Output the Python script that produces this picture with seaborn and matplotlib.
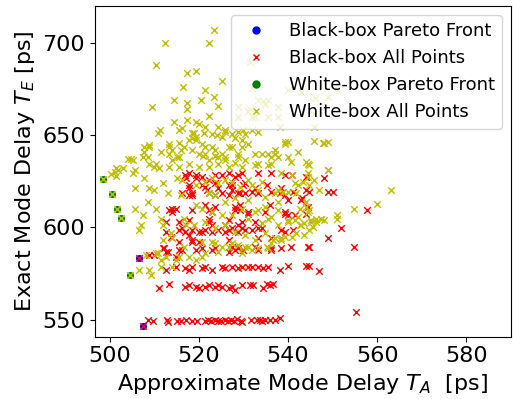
import matplotlib
matplotlib.use("Agg")
import matplotlib.pyplot as plt
from matplotlib.lines import Line2D
import seaborn as sns

# black-box pareto front
bb_pareto_x = [506.5, 507.5]
bb_pareto_y = [583.4, 546.4]

# white-box pareto front
wb_pareto_x = [498.5, 500.5, 501.6, 502.6, 504.5]
wb_pareto_y = [626.1, 618.2, 610.0, 605.2, 574.1]

# black-box, all evaluated points
bb_x = [
    506.5, 507.5,
    508.7, 509.8, 512.8, 513.2, 515.0, 516.0, 517.2, 518.4, 519.6, 521.4, 522.0, 522.8,
    523.6, 524.2, 525.0, 525.8, 526.6, 527.2, 528.0, 528.6, 529.4, 529.6, 531.8, 533.0,
    533.7, 534.2, 534.8, 536.0, 537.0, 538.2, 555.2,
    511.1, 513.3, 517.0, 517.8, 519.3, 520.0, 521.5, 522.2, 523.7, 524.4, 525.2, 526.7,
    527.4, 528.2, 529.6, 531.5, 532.2, 534.5, 535.2, 535.9, 536.7,
    512.6, 514.8, 517.0, 517.8, 518.5, 520.7, 521.5, 523.0, 525.2, 525.9, 527.4, 528.9,
    529.6, 531.1, 531.9, 533.3, 534.5, 535.6, 538.2, 540.0, 544.1, 544.8, 547.0,
    508.9, 510.0, 514.8,
    511.9, 512.6, 512.2, 513.0, 515.6, 516.3, 519.3, 520.7, 523.0, 523.7, 526.7, 527.4,
    528.2, 528.9, 530.0, 532.6, 533.3, 536.3, 536.3, 538.5, 540.7, 544.4, 544.8, 554.8,
    513.7, 515.6, 517.8, 518.5, 518.5, 520.0, 526.7, 533.3, 536.3, 548.9,
    512.6, 515.6, 516.3, 517.0, 518.5, 520.0, 520.7, 521.5, 523.0, 524.4, 525.9, 526.7,
    527.4, 528.9, 529.6, 530.4, 531.9, 533.3, 534.1, 538.5, 539.3, 541.1, 551.9,
    512.6, 515.6, 517.8, 522.2, 522.2, 523.0, 525.9, 526.7, 528.9, 529.6, 532.6,
    513.3, 514.1, 514.8, 514.1, 518.5, 521.5, 522.2, 523.0, 523.7, 528.1, 528.2, 529.3,
    529.3, 531.1, 531.1, 534.8, 535.9, 539.3, 539.3, 540.0, 541.5, 544.1, 544.4, 557.8,
    516.3, 517.8, 518.5, 518.5, 521.9, 522.2, 523.7, 525.2, 526.7, 527.4, 528.9, 529.3,
    530.4, 531.9, 533.3, 536.3, 538.2, 539.3, 540.0, 543.0, 543.1, 544.1, 544.8, 548.9,
    550.0,
    517.8, 517.8, 520.7, 521.5, 522.2, 523.7, 524.4, 526.7, 527.4, 530.0, 530.4, 532.6,
    535.2, 538.5, 541.1, 517.1, 519.3,
    517.0, 517.8, 519.3, 520.7, 523.7, 525.2, 526.7, 528.2, 528.9, 529.6, 533.3, 536.3,
    539.3, 540.8, 544.1, 548.1,
]
bb_y = [
    583.4, 546.4,
    549.6, 549.0, 549.6, 548.8, 549.4, 549.0, 549.6, 549.0, 549.4, 549.2, 549.8, 549.0,
    549.6, 549.0, 549.4, 549.8, 549.2, 550.0, 549.4, 550.4, 549.0, 548.8, 549.6, 549.6,
    549.8, 549.4, 549.8, 549.6, 549.8, 550.7, 554.3,
    567.4, 569.2, 567.8, 568.7, 567.8, 566.9, 567.8, 568.7, 567.8, 568.7, 567.8, 566.9,
    567.8, 566.0, 568.7, 568.7, 568.7, 566.9, 569.3, 568.7, 569.3,
    576.8, 578.6, 577.7, 576.8, 578.6, 577.7, 578.6, 576.8, 578.6, 577.7, 578.6, 577.7,
    578.6, 578.6, 578.6, 578.6, 577.7, 578.6, 576.8, 579.0, 579.0, 579.0, 576.3,
    585.0, 585.0, 584.1,
    588.6, 586.8, 588.6, 586.8, 587.7, 587.7, 587.7, 588.6, 587.7, 588.6, 586.8, 589.5,
    587.7, 588.6, 587.7, 589.5, 587.7, 587.7, 588.6, 588.6, 589.5, 589.1, 589.1, 589.1,
    594.9, 592.2, 595.8, 592.2, 593.1, 592.2, 593.1, 594.0, 594.0, 594.0,
    597.6, 598.5, 599.4, 597.6, 598.5, 597.6, 597.6, 598.5, 597.6, 598.5, 597.6, 598.5,
    599.4, 597.6, 599.4, 598.5, 598.5, 599.4, 599.4, 598.5, 597.6, 598.5, 599.4,
    603.0, 603.0, 603.9, 603.0, 604.8, 601.2, 601.2, 603.9, 601.2, 603.0, 603.0,
    609.3, 608.4, 610.2, 610.2, 609.3, 612.1, 609.3, 608.4, 611.2, 611.2, 609.3, 612.1,
    609.3, 608.4, 607.5, 608.4, 612.1, 607.5, 608.4, 606.6, 606.6, 607.5, 611.1, 609.3,
    618.4, 617.5, 618.4, 617.5, 620.2, 618.4, 617.5, 618.4, 617.5, 620.2, 618.4, 618.4,
    618.4, 619.3, 618.4, 619.3, 618.4, 617.5, 614.7, 614.7, 615.7, 620.2, 619.3, 619.3,
    619.3,
    621.1, 622.9, 622.9, 622.0, 625.6, 623.8, 621.1, 622.9, 622.9, 622.9, 623.8, 621.1,
    622.9, 621.1, 619.3, 626.5, 626.5,
    628.3, 629.2, 628.3, 627.4, 628.3, 628.3, 629.2, 627.4, 628.3, 629.2, 629.2, 629.2,
    628.3, 628.3, 627.4, 627.0,
]

# white-box, all evaluated points
wb_x = [
    498.5, 500.5, 501.6, 502.6, 504.5,
    523.3, 512.4, 522.2, 510.4, 517.4, 519.3, 525.2, 516.4, 521.5, 514.4, 520.5, 523.3,
    509.5, 517.4, 517.4, 524.2, 522.2, 514.4, 517.4, 519.3, 510.9, 511.3, 515.6, 516.3,
    518.5, 518.5, 521.1, 524.1, 525.9, 528.1, 530.0, 508.9, 507.8, 508.9, 507.8, 504.1,
    504.8, 505.2, 507.4, 508.5, 511.5, 513.3, 513.3, 515.6, 515.6, 521.0, 523.7, 525.9,
    528.1, 529.6, 501.5, 503.0, 501.1, 501.8, 505.6, 510.0, 511.1,
    517.8, 519.3, 520.7, 518.5, 520.0, 521.5, 522.2, 523.7, 525.2, 526.7, 517.8, 520.0,
    522.2, 524.4, 526.7, 528.9, 530.4, 513.3, 514.1, 510.4, 515.6,
    513.3, 514.1, 515.2, 515.9, 516.7, 518.9, 519.3,
    531.5, 531.9, 533.3, 534.4, 535.6, 537.8, 540.0, 543.0, 545.9, 548.9, 551.1, 531.0,
    532.5, 535.6, 538.1, 545.9, 545.9, 548.1, 539.3, 540.0, 542.2, 544.4, 536.3, 537.0,
    546.0, 547.8, 548.9, 544.1, 544.8, 548.9, 531.5,
    528.9, 534.8, 537.8, 528.9, 531.9,
    520.0, 521.5, 523.0, 524.4, 525.9, 525.2, 527.4, 528.9, 530.4, 531.9, 533.3, 529.6,
    531.1, 532.6, 534.1, 535.6, 537.0, 537.8, 539.3, 540.0, 540.7, 527.4, 523.0, 521.5,
    524.4, 525.9, 528.9,
    521.5, 523.0, 524.4, 525.9, 527.4, 522.2, 523.7, 525.9, 528.1, 531.1, 534.1, 534.8,
    537.0, 537.8, 520.7, 523.0, 525.2, 527.4, 529.6, 531.1, 532.6, 534.1, 535.6, 537.8,
    540.0, 521.5, 523.7, 525.9, 528.1, 530.4, 532.6, 534.8, 536.7, 538.5, 520.7, 523.0,
    524.4, 526.7, 528.9, 531.1, 533.3, 535.6, 521.5,
    505.6, 505.6, 507.4, 507.1, 506.7, 508.5, 507.8, 508.9, 510.0, 510.4, 511.5, 511.9,
    511.9, 513.0, 515.2, 516.3, 513.7, 514.1, 516.7, 517.1, 508.2, 510.8, 516.7, 517.8,
    515.9, 519.3, 519.3, 518.9,
    506.7, 508.9, 509.3, 511.5, 512.6, 514.8, 515.6, 511.5, 510.4, 514.1,
    519.3, 520.7, 523.7, 525.2, 527.4, 529.6, 511.9, 514.1,
    500.4, 501.5, 505.3, 508.9,
    529.6, 532.6, 533.3, 535.6, 536.3, 538.5, 540.8, 541.5, 542.2, 544.4, 545.9, 547.0,
    548.9, 529.3, 531.9, 533.3, 537.8, 538.9, 540.0, 541.9, 544.1, 544.8, 546.3, 547.4,
    548.1, 551.1, 551.1, 554.8, 560.0, 563.0, 531.1, 533.3, 534.8, 536.3, 537.8, 540.0,
    541.5, 542.6, 543.7, 545.2, 540.8, 541.9, 538.5, 539.3, 536.3, 535.2, 530.4, 531.9,
    537.0,
    546.3, 547.4, 544.1, 544.4, 545.2, 545.5, 544.8, 543.3, 544.8, 544.4, 542.6, 542.2,
    542.9, 543.7,
]
wb_y = [
    626.1, 618.2, 610.0, 605.2, 574.1,
    707.2, 700.1, 700.1, 688.2, 683.9, 685.0, 679.2, 675.9, 674.3, 669.3, 669.3, 670.7,
    665.1, 667.4, 664.4, 666.0, 660.2, 657.1, 658.4, 657.1, 651.3, 653.0, 652.7, 654.0,
    651.0, 648.5, 650.9, 650.0, 651.7, 648.2, 652.7, 643.5, 643.5, 644.5, 640.7, 637.3,
    637.3, 636.4, 638.2, 638.2, 640.9, 643.6, 640.0, 645.5, 638.0, 638.5, 638.5, 638.2,
    634.8, 643.6, 632.0, 632.0, 630.0, 631.0, 631.0, 632.8, 632.0,
    647.2, 649.0, 645.4, 641.8, 640.0, 643.6, 636.4, 641.8, 640.0, 643.6, 634.6, 632.7,
    632.7, 634.6, 632.7, 640.0, 636.4, 632.7, 636.4, 634.6, 632.7,
    645.4, 641.8, 638.2, 641.8, 643.6, 650.9, 647.2,
    689.6, 675.4, 669.0, 668.5, 669.0, 665.3, 674.3, 673.4, 661.7, 670.7, 675.2, 663.0,
    660.0, 659.9, 654.4, 654.4, 647.0, 645.8, 646.0, 646.5, 640.9, 634.6, 638.0, 639.5,
    670.0, 645.6, 646.0, 635.5, 633.7, 631.0, 664.4,
    665.3, 667.1, 659.9, 659.9, 659.9,
    656.2, 654.4, 650.8, 654.4, 652.6, 649.0, 650.8, 651.7, 650.8, 652.6, 651.7, 647.2,
    645.4, 640.0, 640.0, 640.0, 641.8, 638.2, 645.4, 638.2, 635.5, 643.6, 643.6, 640.0,
    638.2, 636.4, 638.2,
    624.7, 626.5, 623.8, 625.6, 624.7, 618.4, 617.5, 613.9, 615.7, 625.6, 624.7, 616.6,
    618.4, 613.9, 610.2, 608.4, 606.6, 606.6, 610.2, 604.8, 608.4, 602.1, 604.8, 601.2,
    603.0, 603.0, 599.4, 601.2, 597.6, 595.8, 593.1, 596.7, 593.1, 594.0, 592.2, 592.2,
    586.8, 589.5, 590.4, 589.5, 588.6, 588.6, 585.9,
    621.1, 610.2, 606.6, 601.2, 598.5, 613.9, 626.5, 621.1, 620.2, 610.2, 604.8, 601.2,
    623.8, 618.4, 626.5, 625.6, 596.7, 594.0, 604.8, 601.2, 585.0, 585.9, 589.5, 584.1,
    617.5, 622.9, 612.1, 601.2,
    576.8, 576.8, 574.1, 582.2, 584.1, 582.2, 584.1, 578.6, 585.9, 578.6,
    582.2, 584.1, 591.3, 589.5, 591.3, 585.9, 593.1, 594.0,
    628.8, 628.0, 629.5, 634.6,
    632.8, 633.7, 634.6, 633.7, 634.6, 629.2, 628.3, 623.8, 622.9, 629.2, 625.6, 620.2,
    631.0, 622.0, 622.9, 620.2, 620.2, 619.3, 619.3, 618.4, 613.8, 609.3, 603.0, 604.8,
    603.9, 606.6, 604.8, 610.2, 612.9, 620.2, 614.7, 609.3, 611.1, 605.7, 609.3, 603.9,
    603.9, 601.2, 602.1, 603.9, 594.9, 596.7, 593.1, 594.9, 591.3, 589.5, 589.5, 587.7,
    594.0,
    604.5, 604.5, 611.2, 608.4, 603.0, 600.3, 598.5, 624.7, 622.9, 627.4, 610.2, 605.7,
    601.2, 595.8,
]

FS = 16

fig, ax = plt.subplots(figsize=(5.13, 3.99), dpi=100)
fig.subplots_adjust(left=0.185, right=0.996, bottom=0.156, top=0.985)

sns.scatterplot(x=bb_pareto_x, y=bb_pareto_y, ax=ax, color="b", marker="o",
                s=26, linewidth=0)
sns.scatterplot(x=bb_x, y=bb_y, ax=ax, color="r", marker="x",
                s=22, linewidth=1)
sns.scatterplot(x=wb_pareto_x, y=wb_pareto_y, ax=ax, color="g", marker="o",
                s=26, linewidth=0)
sns.scatterplot(x=wb_x, y=wb_y, ax=ax, color="y", marker="x",
                s=22, linewidth=1)

ax.set_xlim(496.7, 590)
ax.set_ylim(540.7, 720)
ax.set_xticks([500, 520, 540, 560, 580])
ax.set_yticks([550, 600, 650, 700])
ax.tick_params(labelsize=FS)

ax.set_xlabel("Approximate Mode Delay $T_A$  [ps]", fontsize=FS)
ax.set_ylabel("Exact Mode Delay $T_E$ [ps]", fontsize=FS)

# legend handles like plt.plot markers (marker centred in the handle)
handles = [
    Line2D([], [], ls="none", marker="o", color="b", markersize=5),
    Line2D([], [], ls="none", marker="x", color="r", markersize=5),
    Line2D([], [], ls="none", marker="o", color="g", markersize=5),
    Line2D([], [], ls="none", marker="x", color="y", markersize=5),
]
labels = ["Black-box Pareto Front", "Black-box All Points",
          "White-box Pareto Front", "White-box All Points"]
ax.legend(handles, labels, loc="upper right", fontsize=13)

fig.savefig("out.png", dpi=100)
